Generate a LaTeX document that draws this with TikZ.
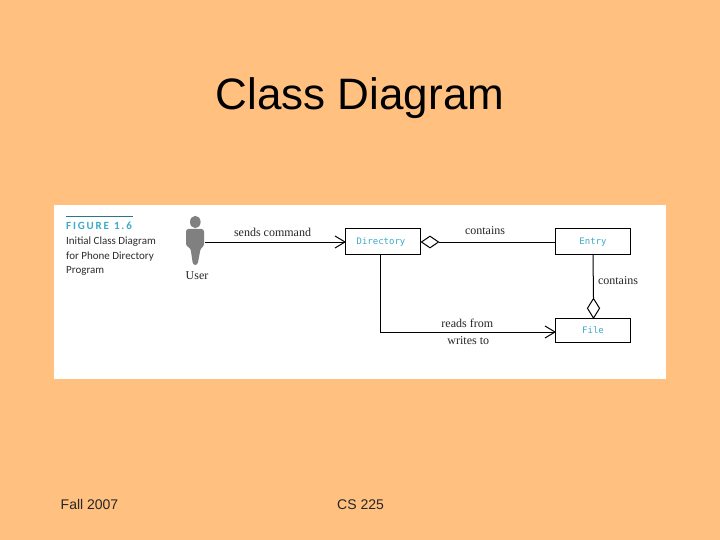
\documentclass[tikz,border=0pt]{standalone}
\usepackage{fontspec}
\usetikzlibrary{shapes.geometric}
\setmainfont{Liberation Serif}
\newfontfamily\arialf{Liberation Sans}
\newfontfamily\capf{Carlito}
\newfontfamily\monof{DejaVu Sans Mono}
\definecolor{bgorange}{RGB}{255,192,128}
\definecolor{teal1}{RGB}{60,170,200}
\definecolor{cap}{RGB}{45,45,45}
\definecolor{figgrey}{RGB}{128,128,128}
\tikzset{
  classbox/.style={draw=black,line width=1pt,fill=white,minimum width=75pt,minimum height=26pt,inner sep=0pt,font=\monof\fontsize{9}{10}\selectfont,text=teal1},
  lbl/.style={font=\fontsize{12}{14}\selectfont,text=black!85,inner sep=0pt},
  conn/.style={draw=black,line width=1pt},
  capline/.style={font=\capf\fontsize{11}{13}\selectfont,text=cap,inner sep=0pt,anchor=west},
  slide/.style={font=\arialf\fontsize{14}{16}\selectfont,text=black!85,inner sep=0pt,anchor=base west},
  hdiam/.style={draw=black,line width=1pt,fill=white,diamond,inner sep=0pt,minimum width=17.5pt,minimum height=12pt},
  vdiam/.style={draw=black,line width=1pt,fill=white,diamond,inner sep=0pt,minimum width=12.5pt,minimum height=20pt}
}
\begin{document}
\begin{tikzpicture}[x=1pt,y=-1pt]
\fill[bgorange] (0,0) rectangle (720,540);
\useasboundingbox (0,0) rectangle (720,540);
\fill[white] (54,205) rectangle (666,379);
\node[font=\arialf\fontsize{44}{50}\selectfont,text=black,inner sep=0pt] (title) at (360,98) {Class Diagram};
\node[slide] (date) at (60.5,509) {Fall 2007};
\node[slide] (course) at (337,509) {CS 225};
% caption
\coordinate (ruleA) at (66,216);
\coordinate (ruleB) at (133,216);
\draw[teal1!70!black,line width=0.6pt] (ruleA) -- (ruleB);
\node[capline,font=\capf\bfseries\fontsize{11}{12}\selectfont,text=teal1] (fig) at (66,226) {F\,I\,G\,U\,R\,E\ \ 1\,.\,6};
\node[capline] (c1) at (66,242) {Initial Class Diagram};
\node[capline] (c2) at (66,257) {for Phone Directory};
\node[capline] (c3) at (66,271) {Program};
% user figure
\fill[figgrey] (195.3,222) ellipse (5.3 and 6.2);
\fill[figgrey,rounded corners=2.5pt] (186,229) -- (204,229) -- (204.2,246) -- (200.7,248) -- (197.5,265) -- (193,265) -- (190.5,248) -- (186,246) -- cycle;
\coordinate (user) at (205,242);
\node[lbl] (userl) at (197,275.5) {User};
% classes
\node[classbox] (dir) at (383,241.7) {};
\node[classbox,draw=none,fill=none] (dirt) at (381,242.5) {Directory};
\node[classbox] (ent) at (593,241.7) {};
\node[classbox,draw=none,fill=none] (entt) at (593,242.5) {Entry};
\node[classbox,minimum height=24pt] (file) at (593,330.3) {File};
\node[hdiam] (d1) at (430,242) {};
\node[vdiam] (d2) at (593.5,308.3) {};
\coordinate (corner) at (380.5,332);
\coordinate (dirw) at (user -| dir.west);
\coordinate (d1e) at (d1.east);
% connectors
\draw[conn] (user) -- (dirw);
\draw[conn] ([shift={(-10,-6)}]dirw) -- (dirw) -- ([shift={(-10,6)}]dirw);
\draw[conn] (d1e) -- (d1e -| ent.west);
\draw[conn] (ent.south) -- (d2.north);
\draw[conn] (corner |- dir.south) -- (corner) -- (corner -| file.west);
\draw[conn] ([shift={(-10,-6)}]corner -| file.west) -- (corner -| file.west) -- ([shift={(-10,6)}]corner -| file.west);
% labels
\node[lbl] (sends) at (272.5,232) {sends command};
\node[lbl] (cont1) at (485,231) {contains};
\node[lbl] (cont2) at (618,280.5) {contains};
\node[lbl] (reads) at (467.3,323) {reads from};
\node[lbl] (writes) at (468.3,341) {writes to};
\end{tikzpicture}
\end{document}
